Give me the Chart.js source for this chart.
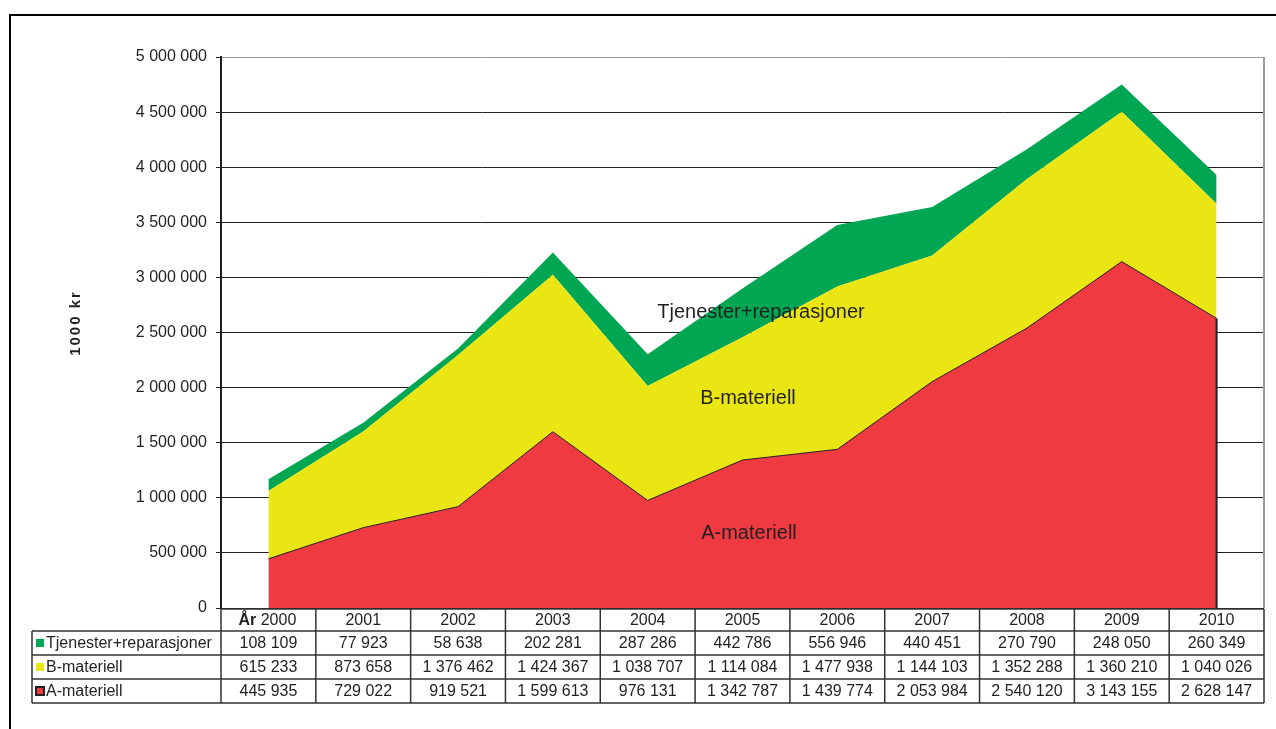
<!DOCTYPE html>
<html>
<head>
<meta charset="utf-8">
<script src="https://cdn.jsdelivr.net/npm/chart.js@4.4.1/dist/chart.umd.min.js"></script>
<style>
  html, body { margin: 0; padding: 0; background: #fff; }
  canvas { display: block; }
</style>
</head>
<body>
<canvas id="c" width="1276" height="729"></canvas>
<script>
const years = ['2000','2001','2002','2003','2004','2005','2006','2007','2008','2009','2010'];
const aMateriell = [445935, 729022, 919521, 1599613, 976131, 1342787, 1439774, 2053984, 2540120, 3143155, 2628147];
const bMateriell = [615233, 873658, 1376462, 1424367, 1038707, 1114084, 1477938, 1144103, 1352288, 1360210, 1040026];
const tjenester = [108109, 77923, 58638, 202281, 287286, 442786, 556946, 440451, 270790, 248050, 260349];
const seriesNames = ['Tjenester+reparasjoner', 'B-materiell', 'A-materiell'];
const yTicks = [0, 500000, 1000000, 1500000, 2000000, 2500000, 3000000, 3500000, 4000000, 4500000, 5000000];
const axisTitle = '1000 kr';

const RED = 'rgb(238,58,64)';
const YELLOW = 'rgb(234,230,20)';
const GREEN = 'rgb(0,166,81)';
const TEXT = '#231f20';
const FONT = '"Liberation Sans", Arial, sans-serif';

function fmt(v) {
  return String(v).replace(/\B(?=(\d{3})+(?!\d))/g, ' ');
}

const decor = {
  id: 'decor',
  beforeDraw(chart) {
    const ctx = chart.ctx;
    ctx.save();
    ctx.fillStyle = '#fff';
    ctx.fillRect(0, 0, chart.width, chart.height);
    ctx.strokeStyle = '#000';
    ctx.lineWidth = 2;
    ctx.beginPath();
    ctx.moveTo(10, 729);
    ctx.lineTo(10, 15);
    ctx.lineTo(1276, 15);
    ctx.stroke();
    ctx.restore();
  },
  afterDatasetsDraw(chart) {
    const ctx = chart.ctx;
    const x = chart.scales.x, y = chart.scales.y;
    const ca = chart.chartArea;
    ctx.save();
    const last = aMateriell.length - 1;
    ctx.strokeStyle = '#231f20';
    ctx.lineWidth = 2;
    ctx.beginPath();
    ctx.moveTo(x.getPixelForValue(last), y.getPixelForValue(0));
    ctx.lineTo(x.getPixelForValue(last), y.getPixelForValue(aMateriell[last]));
    ctx.stroke();
    ctx.strokeStyle = '#9a9a9a';
    ctx.lineWidth = 2;
    ctx.beginPath();
    ctx.moveTo(ca.right, ca.top);
    ctx.lineTo(ca.right, ca.bottom);
    ctx.stroke();

    ctx.fillStyle = TEXT;
    ctx.font = '20px ' + FONT;
    ctx.textAlign = 'center';
    ctx.textBaseline = 'middle';
    ctx.fillText(seriesNames[0], 761, 312);
    ctx.fillText(seriesNames[1], 748, 398);
    ctx.fillText(seriesNames[2], 749, 533);

    ctx.save();
    ctx.translate(76, 323);
    ctx.rotate(-Math.PI / 2);
    ctx.font = 'bold 15px ' + FONT;
    try { ctx.letterSpacing = '2px'; } catch (e) {}
    ctx.fillText(axisTitle, 0, 0);
    try { ctx.letterSpacing = '0px'; } catch (e) {}
    ctx.restore();

    const half = (x.getPixelForValue(1) - x.getPixelForValue(0)) / 2;
    const left0 = 32;
    const colL = ca.left;
    const colR = ca.right;
    const rows = [ca.bottom + 1, ca.bottom + 23, ca.bottom + 47, ca.bottom + 71, ca.bottom + 95];
    ctx.strokeStyle = '#333';
    ctx.lineWidth = 1.5;
    ctx.beginPath();
    ctx.moveTo(colL, rows[0]); ctx.lineTo(colR, rows[0]);
    for (let r = 1; r < rows.length; r++) {
      ctx.moveTo(left0, rows[r]); ctx.lineTo(colR, rows[r]);
    }
    ctx.moveTo(left0, rows[1]); ctx.lineTo(left0, rows[4]);
    for (let i = 0; i < years.length; i++) {
      const xl = x.getPixelForValue(i) - half;
      ctx.moveTo(xl, rows[0]); ctx.lineTo(xl, rows[4]);
    }
    ctx.moveTo(colR, rows[0]); ctx.lineTo(colR, rows[4]);
    ctx.stroke();

    ctx.font = '16px ' + FONT;
    ctx.fillStyle = TEXT;
    ctx.textBaseline = 'middle';
    ctx.textAlign = 'center';
    const rowData = [tjenester, bMateriell, aMateriell];
    for (let i = 0; i < years.length; i++) {
      const cx = x.getPixelForValue(i);
      const hy = (rows[0] + rows[1]) / 2 + 1;
      if (i === 0) {
        ctx.font = 'bold 16px ' + FONT;
        const w1 = ctx.measureText('År ').width;
        ctx.font = '16px ' + FONT;
        const w2 = ctx.measureText(years[0]).width;
        const start = cx - (w1 + w2) / 2 - 1;
        ctx.textAlign = 'left';
        ctx.font = 'bold 16px ' + FONT;
        ctx.fillText('År', start, hy);
        ctx.font = '16px ' + FONT;
        ctx.fillText(years[0], start + w1, hy);
        ctx.textAlign = 'center';
      } else {
        ctx.fillText(years[i], cx, hy);
      }
      for (let r = 0; r < 3; r++) {
        ctx.fillText(fmt(rowData[r][i]), cx, (rows[r + 1] + rows[r + 2]) / 2 + 1);
      }
    }
    const colors = [GREEN, YELLOW, RED];
    ctx.textAlign = 'left';
    for (let r = 0; r < 3; r++) {
      const cy = (rows[r + 1] + rows[r + 2]) / 2;
      if (r === 2) {
        ctx.fillStyle = '#231f20';
        ctx.fillRect(35, cy - 5, 10, 10);
        ctx.fillStyle = RED;
        ctx.fillRect(37, cy - 3, 6, 6);
      } else {
        ctx.fillStyle = colors[r];
        ctx.fillRect(36, cy - 4, 8, 8);
      }
      ctx.fillStyle = TEXT;
      ctx.fillText(seriesNames[r], 46, cy + 1);
    }
    ctx.restore();
  }
};

new Chart(document.getElementById('c'), {
  type: 'line',
  data: {
    labels: years,
    datasets: [
      { label: seriesNames[2], data: aMateriell, backgroundColor: RED, borderColor: '#231f20', borderWidth: 1, fill: 'origin', pointRadius: 0, tension: 0 },
      { label: seriesNames[1], data: bMateriell, backgroundColor: YELLOW, borderColor: YELLOW, borderWidth: 0, fill: '-1', pointRadius: 0, tension: 0 },
      { label: seriesNames[0], data: tjenester, backgroundColor: GREEN, borderColor: GREEN, borderWidth: 0, fill: '-1', pointRadius: 0, tension: 0 }
    ]
  },
  options: {
    responsive: false,
    animation: false,
    layout: { padding: { left: 0, right: 12, top: 57, bottom: 121 } },
    plugins: { legend: { display: false }, tooltip: { enabled: false } },
    scales: {
      x: {
        display: false,
        offset: true,
        grid: { display: false, offset: true }
      },
      y: {
        stacked: true,
        min: 0,
        max: 5000000,
        afterFit(scale) { scale.width = 221; },
        afterBuildTicks(scale) { scale.ticks = yTicks.map(v => ({ value: v })); },
        ticks: {
          color: TEXT,
          font: { family: FONT, size: 16 },
          padding: 9,
          callback: v => fmt(v)
        },
        grid: {
          color: ctx => (ctx.tick && ctx.tick.value === 5000000) ? '#9a9a9a' : '#231f20',
          lineWidth: 1,
          tickLength: 5,
          tickColor: '#231f20'
        },
        border: { display: true, color: '#231f20', width: 2 }
      }
    }
  },
  plugins: [decor]
});
</script>
</body>
</html>
